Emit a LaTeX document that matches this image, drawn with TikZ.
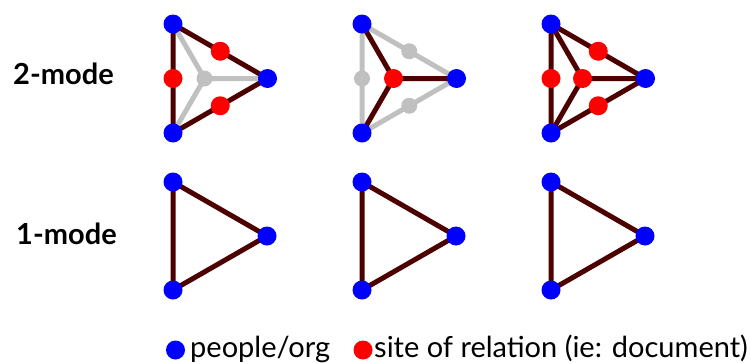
\documentclass[tikz,border=0pt]{standalone}
\usepackage{fontspec}
\setmainfont{Lato}
\pgfdeclarelayer{bg}
\pgfsetlayers{bg,main}
\definecolor{pblue}{RGB}{0,0,255}
\definecolor{sred}{RGB}{255,0,0}
\definecolor{edark}{RGB}{77,0,0}
\definecolor{egray}{RGB}{192,192,192}
\tikzset{
  pp/.style={circle,fill=pblue,inner sep=0pt,minimum size=19pt},
  site/.style={circle,fill=sred,inner sep=0pt,minimum size=19pt},
  ghost/.style={circle,fill=egray,inner sep=0pt,minimum size=16pt},
  darkedge/.style={draw=edark,line width=5pt,line join=round},
  grayedge/.style={draw=egray,line width=5pt,line join=round},
  rowlabel/.style={font=\fontsize{29}{32}\selectfont\bfseries,anchor=base,inner sep=0pt},
  legtext/.style={font=\fontsize{29}{32}\selectfont,anchor=base west,inner sep=0pt}
}
\begin{document}
\begin{tikzpicture}[x=1pt,y=-1pt]
\useasboundingbox (0,0) rectangle (751,362);

% ---------- row labels
\node[rowlabel] (l2) at (63.5,84) {2-mode};
\node[rowlabel] (l1) at (66.5,244) {1-mode};

% ---------- panel 1 (2-mode, sites on the outer edges)
\begin{scope}[shift={(173,24)}]
\node[pp] (at) at (0,0) {};
\node[pp] (ab) at (0,109) {};
\node[pp] (ar) at (94.5,54.5) {};
\node[site] (au) at (47.25,27.25) {};
\node[site] (al) at (0,54.5) {};
\node[site] (ad) at (47.25,81.75) {};
\node[ghost] (ac) at (31.5,54.5) {};
\end{scope}
\begin{pgfonlayer}{bg}
\draw[grayedge] (ac.center) -- (at.center) (ac.center) -- (ab.center) (ac.center) -- (ar.center);
\draw[darkedge] (at.center) -- (au.center) -- (ar.center) -- (ad.center) -- (ab.center) -- (al.center) -- cycle;
\end{pgfonlayer}

% ---------- panel 2 (2-mode, one central site)
\begin{scope}[shift={(362,24)}]
\node[pp] (bt) at (0,0) {};
\node[pp] (bb) at (0,109) {};
\node[pp] (br) at (94.5,54.5) {};
\node[ghost] (bu) at (47.25,27.25) {};
\node[ghost] (bl) at (0,54.5) {};
\node[ghost] (bd) at (47.25,81.75) {};
\node[site] (bc) at (31.5,54.5) {};
\end{scope}
\begin{pgfonlayer}{bg}
\draw[grayedge] (bt.center) -- (bu.center) -- (br.center) -- (bd.center) -- (bb.center) -- (bl.center) -- cycle;
\draw[darkedge] (bc.center) -- (bt.center) (bc.center) -- (bb.center) (bc.center) -- (br.center);
\end{pgfonlayer}

% ---------- panel 3 (2-mode, all sites)
\begin{scope}[shift={(551,24)}]
\node[pp] (ct) at (0,0) {};
\node[pp] (cb) at (0,109) {};
\node[pp] (cr) at (94.5,54.5) {};
\node[site] (cu) at (47.25,27.25) {};
\node[site] (cl) at (0,54.5) {};
\node[site] (cd) at (47.25,81.75) {};
\node[site] (cc) at (31.5,54.5) {};
\end{scope}
\begin{pgfonlayer}{bg}
\draw[darkedge] (ct.center) -- (cu.center) -- (cr.center) -- (cd.center) -- (cb.center) -- (cl.center) -- cycle;
\draw[darkedge] (cc.center) -- (ct.center) (cc.center) -- (cb.center) (cc.center) -- (cr.center);
\end{pgfonlayer}

% ---------- 1-mode triangles
\begin{scope}[shift={(173,182)}]
\node[pp] (dt) at (0,0) {};
\node[pp] (db) at (0,108) {};
\node[pp] (dr) at (94,54) {};
\end{scope}
\begin{scope}[shift={(362,182)}]
\node[pp] (et) at (0,0) {};
\node[pp] (eb) at (0,108) {};
\node[pp] (er) at (94,54) {};
\end{scope}
\begin{scope}[shift={(551,182)}]
\node[pp] (ft) at (0,0) {};
\node[pp] (fb) at (0,108) {};
\node[pp] (fr) at (94,54) {};
\end{scope}
\begin{pgfonlayer}{bg}
\draw[darkedge] (dt.center) -- (dr.center) -- (db.center) -- cycle;
\draw[darkedge] (et.center) -- (er.center) -- (eb.center) -- cycle;
\draw[darkedge] (ft.center) -- (fr.center) -- (fb.center) -- cycle;
\end{pgfonlayer}

% ---------- legend
\node[pp] (kp) at (175.5,350) {};
\node[legtext] (kpt) at (190,357) {people/org};
\node[site] (ks) at (363,350) {};
\node[legtext] (kst) at (374,357) {site of relation (ie: document)};
\end{tikzpicture}
\end{document}
